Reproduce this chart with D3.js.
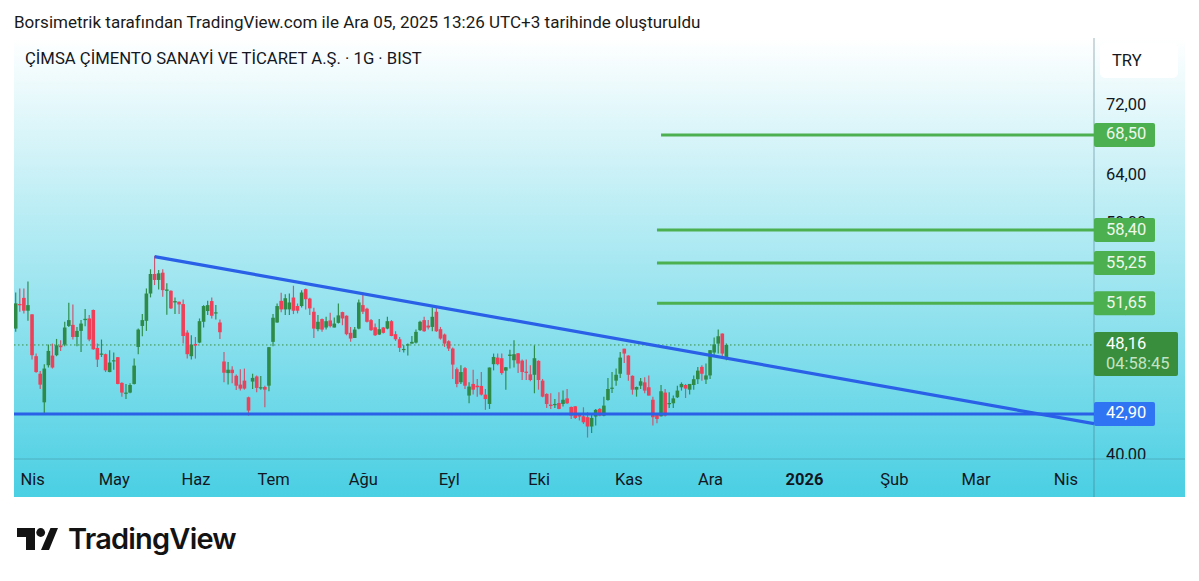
<!DOCTYPE html>
<html>
<head>
<meta charset="utf-8">
<script src="https://cdn.jsdelivr.net/npm/d3@7"></script>
<style>
    body { margin: 0; background: #fff; }
    text { font-family: Roboto, sans-serif; }
</style>
</head>
<body>
<svg></svg>
<script>
// daily candles (TRY)
const opens = [
    49.50,51.58,52.12,51.01,50.70,47.26,45.89,43.74,46.55,47.31,47.34,48.11,48.19,49.72,49.81,48.81,49.31,50.21,50.35,51.07,
    47.92,47.39,47.42,46.02,46.89,47.18,45.19,44.41,44.46,45.11,48.00,49.72,50.15,52.50,54.25,53.71,54.37,52.74,52.74,51.72,
    51.78,51.58,49.17,47.26,48.24,48.35,50.07,50.98,51.84,50.81,50.01,46.84,45.94,46.20,45.73,45.06,45.36,44.11,45.29,45.68,
    44.78,44.88,44.98,48.41,50.01,51.86,51.12,51.12,52.15,51.41,51.41,52.89,52.06,50.92,49.45,50.30,49.59,50.18,49.59,49.98,
    50.89,50.58,49.15,48.73,49.50,51.49,51.18,50.21,49.61,49.01,49.59,49.50,50.12,49.04,48.62,47.76,48.16,48.27,48.35,49.37,
    50.21,49.75,49.64,50.92,49.45,49.01,48.46,47.87,46.24,45.24,46.32,44.24,45.11,44.98,44.96,44.31,43.62,46.63,47.15,47.10,
    46.13,47.28,46.94,47.49,46.91,46.05,45.84,45.81,46.89,45.36,44.36,43.57,43.55,43.69,43.62,44.03,43.40,43.45,42.85,42.73,
    42.66,42.00,42.71,43.26,42.78,43.91,44.76,45.36,45.89,47.86,47.31,45.73,44.68,44.98,45.23,44.86,43.93,42.85,42.73,44.46,
    43.64,43.67,44.11,44.86,45.03,44.68,45.03,45.47,46.42,45.44,45.76,47.55,48.27,49.09,47.15
];
const closes = [
    51.64,51.52,51.01,51.49,47.34,46.02,45.06,46.29,47.68,46.37,48.13,47.98,49.59,50.21,48.81,49.31,49.92,50.32,48.60,47.81,
    46.99,47.47,46.15,46.76,46.94,45.11,44.46,44.46,45.03,46.52,49.42,50.21,52.50,54.25,53.71,54.31,52.80,52.86,51.21,51.84,
    51.55,48.89,47.42,48.19,48.11,50.12,51.41,51.49,50.58,50.87,49.20,45.97,46.20,45.94,44.98,44.76,44.76,43.14,45.57,44.81,
    44.86,44.68,47.98,50.41,51.41,51.12,52.09,51.72,51.01,51.01,52.59,52.00,51.21,49.50,50.07,49.42,50.12,49.70,49.92,50.61,
    50.35,49.04,48.68,49.42,51.72,50.92,50.07,49.37,48.95,49.45,49.15,50.12,48.89,48.62,47.93,47.84,48.21,48.41,49.23,50.07,
    49.28,49.59,50.49,49.28,48.68,48.27,47.87,46.60,45.11,46.02,44.98,44.91,44.68,44.86,44.31,43.98,46.37,47.20,46.63,45.94,
    46.39,47.39,47.42,46.68,46.02,45.97,45.41,47.10,45.41,44.16,43.62,43.47,43.62,43.26,43.93,43.67,42.78,42.61,42.71,42.30,
    42.00,42.61,43.19,42.78,43.50,44.73,44.83,45.81,47.15,47.47,45.81,44.68,44.88,45.31,44.61,44.24,42.66,42.54,44.56,42.78,
    43.69,44.03,44.61,45.11,44.76,45.11,45.47,46.13,45.89,45.76,47.74,48.21,48.87,47.47,48.16
];
const highs = [
    52.59,52.95,52.95,53.56,50.70,47.47,46.10,46.63,48.19,48.27,48.65,48.54,50.07,51.69,51.55,49.64,50.21,51.15,50.64,51.12,
    48.27,48.60,47.47,47.73,47.55,47.20,45.24,45.11,45.16,47.07,49.50,50.72,52.95,54.68,55.92,54.62,54.68,53.41,52.80,52.16,
    51.81,51.98,49.37,48.95,48.81,50.35,51.49,51.87,52.16,51.49,50.27,47.60,46.81,46.47,45.84,46.24,46.29,44.16,45.89,45.76,
    45.71,44.98,48.00,50.72,51.63,52.56,52.44,52.50,53.19,51.63,52.80,52.95,52.12,51.27,50.64,50.35,50.49,50.84,50.44,51.63,
    50.92,50.61,49.64,49.64,51.98,52.56,51.27,50.30,49.92,50.30,49.64,50.49,50.21,49.28,48.81,48.13,48.27,48.89,49.42,50.15,
    50.49,50.21,51.29,51.29,49.64,49.09,48.54,47.95,46.37,46.55,46.42,45.24,46.19,45.49,46.02,44.73,46.37,47.47,47.47,47.47,
    46.42,47.78,48.54,47.52,46.99,46.99,46.55,48.13,46.94,45.49,44.41,44.41,43.98,44.48,44.61,44.73,43.43,43.47,42.90,43.38,
    43.02,42.85,43.26,43.33,44.16,45.57,46.02,46.29,47.60,47.86,47.34,45.76,44.91,45.57,45.62,45.76,44.16,42.90,45.03,44.73,
    44.48,44.24,44.98,45.23,45.11,45.11,45.76,46.42,46.55,46.68,47.74,48.76,49.42,49.09,48.27
];
const lows = [
    49.23,50.92,50.78,50.15,46.99,45.97,44.73,42.85,46.37,46.29,47.26,47.68,48.05,49.64,48.60,48.05,47.60,49.70,48.46,47.78,
    46.42,47.20,46.02,46.00,46.20,45.08,44.16,43.98,44.41,45.06,47.42,48.87,49.31,52.16,53.25,52.86,52.21,50.67,51.15,50.72,
    50.72,48.27,47.07,46.99,47.07,48.30,49.59,50.64,50.35,50.27,48.65,45.24,45.06,45.16,44.66,44.61,44.68,42.78,44.73,44.48,
    44.68,43.38,44.56,48.05,49.98,50.87,50.64,50.64,50.72,50.78,51.29,51.12,50.64,48.73,49.28,49.23,49.42,49.59,49.59,49.92,
    49.78,48.95,48.43,48.73,49.45,50.72,50.01,49.31,48.89,48.98,49.09,49.45,48.87,48.49,47.60,47.55,47.31,48.27,48.27,49.31,
    49.23,49.42,49.28,49.23,48.59,48.00,47.68,45.49,44.86,45.11,44.73,43.67,44.31,44.16,44.24,43.19,43.26,46.15,46.55,45.81,
    44.68,46.29,46.37,45.94,45.41,45.41,45.31,44.41,44.68,44.11,43.33,43.26,43.33,43.24,43.43,43.62,42.54,42.54,42.42,42.18,
    41.23,41.54,42.07,42.73,42.73,43.86,44.43,44.98,45.57,46.73,45.36,44.31,44.16,44.73,44.41,44.24,42.07,42.23,42.71,42.71,
    43.33,43.33,44.06,44.61,44.06,44.31,44.68,45.11,45.36,45.11,45.49,47.20,47.47,47.26,46.94
];

// 59 and 51 sit behind the green tags, only their edges show
const priceTicks = [72, 64, 59, 51.2, 40];
const levels = [68.50, 58.40, 55.25, 51.65];
const levelStarts = [158, 157, 157, 157];
const support = 42.90;
const lastPrice = 48.16;
const countdown = "04:58:45";
const trendIdx = [34, 264];
const trendPrice = [55.86, 42.20];
const monthIdx = [4, 24, 44, 63, 85, 106, 128, 150, 170, 193, 215, 235, 257];
const monthNames = ["Nis", "May", "Haz", "Tem", "Ağu", "Eyl", "Eki", "Kas", "Ara", "2026", "Şub", "Mar", "Nis"];

const width = 1199;
const height = 581;
const boxLeft = 14, boxRight = 1185, boxTop = 38, boxBottom = 497;
const paneRight = 1094, paneBottom = 459;

const fmt = d3.format(".2f");
const comma = v => fmt(v).replace(".", ",");

const x = d3.scaleLinear().domain([0, 264]).range([15.7, paneRight]);
const y = d3.scaleLog().domain([40, 72]).range([455.6, 105.3]);

const svg = d3.select("svg")
    .attr("width", width)
    .attr("height", height)
    .style("display", "block");

const defs = svg.append("defs");
const grad = defs.append("linearGradient")
    .attr("id", "bg")
    .attr("x1", 0).attr("y1", 0).attr("x2", 0).attr("y2", 1);
grad.append("stop").attr("offset", 0).attr("stop-color", "#ffffff");
grad.append("stop").attr("offset", 1).attr("stop-color", "#4acfe3");

defs.append("clipPath").attr("id", "pane").append("rect")
    .attr("x", boxLeft).attr("y", boxTop)
    .attr("width", paneRight - boxLeft).attr("height", paneBottom - boxTop);
defs.append("clipPath").attr("id", "scale").append("rect")
    .attr("x", paneRight).attr("y", boxTop)
    .attr("width", boxRight - paneRight).attr("height", paneBottom - boxTop);

svg.append("text")
    .attr("x", 14).attr("y", 27.5)
    .attr("font-size", 17.05)
    .attr("fill", "#1a1a1a")
    .text("Borsimetrik tarafından TradingView.com ile Ara 05, 2025 13:26 UTC+3 tarihinde oluşturuldu");

svg.append("rect")
    .attr("x", boxLeft).attr("y", boxTop)
    .attr("width", boxRight - boxLeft).attr("height", boxBottom - boxTop)
    .attr("fill", "url(#bg)");

// pane borders
svg.append("line")
    .attr("x1", paneRight).attr("x2", paneRight)
    .attr("y1", boxTop).attr("y2", boxBottom)
    .attr("stroke", "#3f6f80").attr("stroke-opacity", 0.35).attr("stroke-width", 1.5);
svg.append("line")
    .attr("x1", boxLeft).attr("x2", boxRight)
    .attr("y1", paneBottom).attr("y2", paneBottom)
    .attr("stroke", "#3f6f80").attr("stroke-opacity", 0.35).attr("stroke-width", 1);

svg.append("text")
    .attr("x", 25).attr("y", 64)
    .attr("font-size", 16.67)
    .attr("fill", "#131722")
    .text("ÇİMSA ÇİMENTO SANAYİ VE TİCARET A.Ş. · 1G · BIST");

const plot = svg.append("g").attr("clip-path", "url(#pane)");

plot.append("line")
    .attr("x1", boxLeft).attr("x2", paneRight)
    .attr("y1", y(lastPrice)).attr("y2", y(lastPrice))
    .attr("stroke", "#388e3c").attr("stroke-width", 1).attr("stroke-dasharray", "1.5 2.5");

const candles = plot.selectAll(".candle")
    .data(d3.range(opens.length))
    .enter().append("g")
    .attr("class", "candle");

candles.append("line")
    .attr("x1", i => x(i)).attr("x2", i => x(i))
    .attr("y1", i => y(highs[i])).attr("y2", i => y(lows[i]))
    .attr("stroke", i => closes[i] >= opens[i] ? "#2f8f4f" : "#c75a72")
    .attr("stroke-width", 1.2);

candles.append("rect")
    .attr("x", i => x(i) - 1.8)
    .attr("width", 3.6)
    .attr("y", i => y(Math.max(opens[i], closes[i])))
    .attr("height", i => Math.max(1.2, Math.abs(y(opens[i]) - y(closes[i]))))
    .attr("fill", i => closes[i] >= opens[i] ? "#2e8b47" : "#ee4058");

plot.selectAll(".level")
    .data(levels)
    .enter().append("line")
    .attr("class", "level")
    .attr("x1", (d, i) => x(levelStarts[i])).attr("x2", paneRight)
    .attr("y1", d => y(d)).attr("y2", d => y(d))
    .attr("stroke", "#4caf50").attr("stroke-width", 3);

plot.append("line")
    .attr("x1", boxLeft).attr("x2", paneRight)
    .attr("y1", y(support)).attr("y2", y(support))
    .attr("stroke", "#2a5fe8").attr("stroke-width", 3);

plot.append("line")
    .attr("x1", x(trendIdx[0])).attr("x2", x(trendIdx[1]))
    .attr("y1", y(trendPrice[0])).attr("y2", y(trendPrice[1]))
    .attr("stroke", "#2a5fe8").attr("stroke-width", 3.2);

// price scale
const priceAxis = d3.axisRight(y)
    .tickValues(priceTicks)
    .tickFormat(comma)
    .tickSize(0)
    .tickPadding(12);

const priceClip = svg.append("g").attr("clip-path", "url(#scale)");
const priceG = priceClip.append("g")
    .attr("transform", `translate(${paneRight},0)`)
    .call(priceAxis);
priceG.select(".domain").remove();
priceG.selectAll("text")
    .attr("dy", "0.23em")
    .attr("font-size", 16.5)
    .attr("fill", "#131722")
    .style("font-family", "Roboto, sans-serif");

// time scale
const timeAxis = d3.axisBottom(x)
    .tickValues(monthIdx)
    .tickFormat((d, i) => monthNames[i])
    .tickSize(0)
    .tickPadding(14);

const timeG = svg.append("g")
    .attr("transform", `translate(0,${paneBottom})`)
    .call(timeAxis);
timeG.select(".domain").remove();
timeG.selectAll("text")
    .attr("font-size", 16.5)
    .attr("fill", "#131722")
    .attr("font-weight", d => d === 193 ? 700 : 400)
    .style("font-family", "Roboto, sans-serif");

// TRY box
svg.append("rect")
    .attr("x", 1100).attr("y", 43)
    .attr("width", 78).attr("height", 35)
    .attr("rx", 5)
    .attr("fill", "#ffffff");
svg.append("text")
    .attr("x", 1112).attr("y", 66)
    .attr("font-size", 16.5)
    .attr("fill", "#131722")
    .text("TRY");

// level tags
const tags = svg.selectAll(".tag")
    .data(levels)
    .enter().append("g")
    .attr("class", "tag");
tags.append("rect")
    .attr("x", paneRight).attr("y", d => y(d) - 12)
    .attr("width", 61).attr("height", 24)
    .attr("rx", 2)
    .attr("fill", "#4caf50");
tags.append("text")
    .attr("x", 1106).attr("y", d => y(d) + 4.5)
    .attr("font-size", 16.5)
    .attr("fill", "#ecf8ec")
    .text(comma);

svg.append("rect")
    .attr("x", paneRight).attr("y", y(support) - 12)
    .attr("width", 61).attr("height", 24)
    .attr("rx", 2)
    .attr("fill", "#2f74f2");
svg.append("text")
    .attr("x", 1106).attr("y", y(support) + 4.5)
    .attr("font-size", 16.5)
    .attr("fill", "#ffffff")
    .text(comma(support));

svg.append("rect")
    .attr("x", paneRight).attr("y", 332)
    .attr("width", 84).attr("height", 44)
    .attr("rx", 2)
    .attr("fill", "#388e3c");
svg.append("text")
    .attr("x", 1106).attr("y", 349)
    .attr("font-size", 16.5)
    .attr("fill", "#ffffff")
    .text(comma(lastPrice));
svg.append("text")
    .attr("x", 1106).attr("y", 369)
    .attr("font-size", 16.5)
    .attr("fill", "#c4e3c5")
    .text(countdown);

// logo
const logo = svg.append("g").attr("fill", "#131313");
logo.append("path").attr("d", "M17 528H35V550H26V537H17Z");
logo.append("circle").attr("cx", 40.7).attr("cy", 532.5).attr("r", 4.4);
logo.append("path").attr("d", "M50.5 528H58L49 550H41Z");
svg.append("text")
    .attr("x", 68).attr("y", 549)
    .attr("font-size", 29)
    .attr("font-weight", 600)
    .attr("letter-spacing", -0.8)
    .attr("fill", "#131313")
    .style("font-family", "Inter, sans-serif")
    .text("TradingView");
</script>
</body>
</html>
